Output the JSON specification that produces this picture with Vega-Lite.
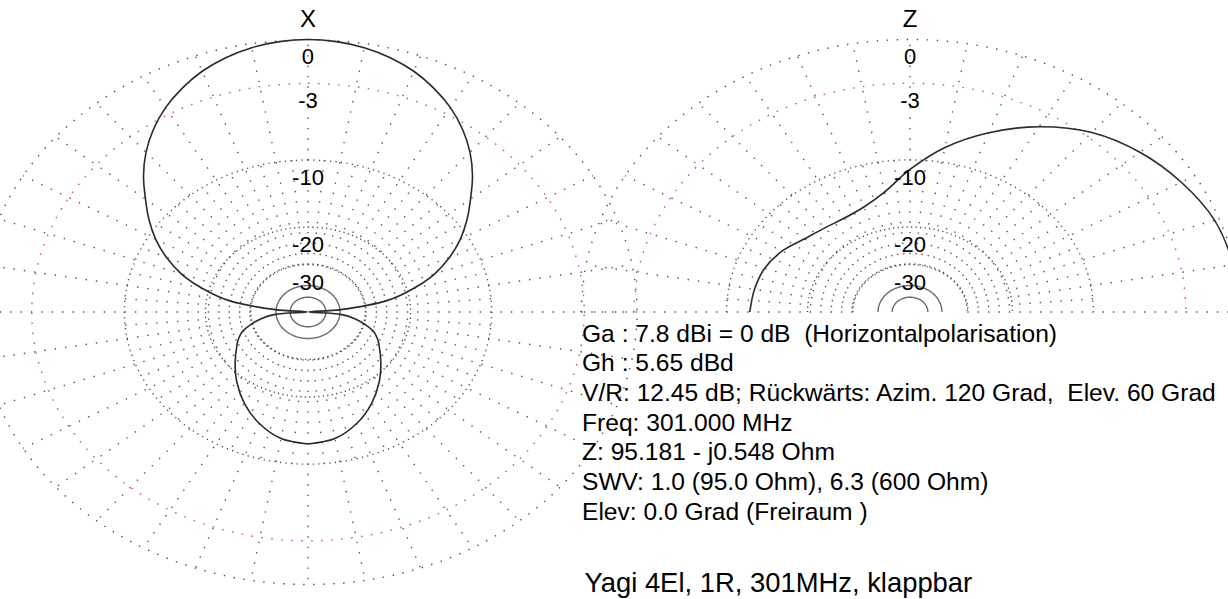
{
  "$schema": "https://vega.github.io/schema/vega-lite/v6.json",
  "width": 1228,
  "height": 599,
  "padding": 0,
  "autosize": {"type": "none"},
  "background": "#ffffff",
  "config": {"view": {"stroke": null}},
  "datasets": {
    "ringsX": [
      {"db": 0, "angles": [0,10,20,30,40,50,60,70,80,90,100,110,120,130,140,150,160,170,180,190,200,210,220,230,240,250,260,270,280,290,300,310,320,330,340,350,360]},
      {"db": -3, "angles": [0,10,20,30,40,50,60,70,80,90,100,110,120,130,140,150,160,170,180,190,200,210,220,230,240,250,260,270,280,290,300,310,320,330,340,350,360]},
      {"db": -10, "angles": [0,10,20,30,40,50,60,70,80,90,100,110,120,130,140,150,160,170,180,190,200,210,220,230,240,250,260,270,280,290,300,310,320,330,340,350,360]},
      {"db": -20, "angles": [0,10,20,30,40,50,60,70,80,90,100,110,120,130,140,150,160,170,180,190,200,210,220,230,240,250,260,270,280,290,300,310,320,330,340,350,360]},
      {"db": -30, "angles": [0,10,20,30,40,50,60,70,80,90,100,110,120,130,140,150,160,170,180,190,200,210,220,230,240,250,260,270,280,290,300,310,320,330,340,350,360]},
      {"db": -40, "angles": [0,10,20,30,40,50,60,70,80,90,100,110,120,130,140,150,160,170,180,190,200,210,220,230,240,250,260,270,280,290,300,310,320,330,340,350,360]},
      {"db": -50, "angles": [0,10,20,30,40,50,60,70,80,90,100,110,120,130,140,150,160,170,180,190,200,210,220,230,240,250,260,270,280,290,300,310,320,330,340,350,360]}
    ],
    "ringsZ": [
      {"db": 0, "angles": [-90,-80,-70,-60,-50,-40,-30,-20,-10,0,10,20,30,40,50,60,70,80,90]},
      {"db": -3, "angles": [-90,-80,-70,-60,-50,-40,-30,-20,-10,0,10,20,30,40,50,60,70,80,90]},
      {"db": -10, "angles": [-90,-80,-70,-60,-50,-40,-30,-20,-10,0,10,20,30,40,50,60,70,80,90]},
      {"db": -20, "angles": [-90,-80,-70,-60,-50,-40,-30,-20,-10,0,10,20,30,40,50,60,70,80,90]},
      {"db": -30, "angles": [-90,-80,-70,-60,-50,-40,-30,-20,-10,0,10,20,30,40,50,60,70,80,90]},
      {"db": -40, "angles": [-90,-80,-70,-60,-50,-40,-30,-20,-10,0,10,20,30,40,50,60,70,80,90]},
      {"db": -50, "angles": [-90,-80,-70,-60,-50,-40,-30,-20,-10,0,10,20,30,40,50,60,70,80,90]}
    ],
    "spokesX": [
      {"ang": 0, "levels": [-30, 0]}, {"ang": 10, "levels": [-30, 0]}, {"ang": 20, "levels": [-30, 0]}, {"ang": 30, "levels": [-30, 0]},
      {"ang": 40, "levels": [-30, 0]}, {"ang": 50, "levels": [-30, 0]}, {"ang": 60, "levels": [-30, 0]}, {"ang": 70, "levels": [-30, 0]},
      {"ang": 80, "levels": [-30, 0]}, {"ang": 90, "levels": [-30, 0]}, {"ang": 100, "levels": [-30, 0]}, {"ang": 110, "levels": [-30, 0]},
      {"ang": 120, "levels": [-30, 0]}, {"ang": 130, "levels": [-30, 0]}, {"ang": 140, "levels": [-30, 0]}, {"ang": 150, "levels": [-30, 0]},
      {"ang": 160, "levels": [-30, 0]}, {"ang": 170, "levels": [-30, 0]}, {"ang": 180, "levels": [-30, 0]}, {"ang": 190, "levels": [-30, 0]},
      {"ang": 200, "levels": [-30, 0]}, {"ang": 210, "levels": [-30, 0]}, {"ang": 220, "levels": [-30, 0]}, {"ang": 230, "levels": [-30, 0]},
      {"ang": 240, "levels": [-30, 0]}, {"ang": 250, "levels": [-30, 0]}, {"ang": 260, "levels": [-30, 0]}, {"ang": 270, "levels": [-30, 0]},
      {"ang": 280, "levels": [-30, 0]}, {"ang": 290, "levels": [-30, 0]}, {"ang": 300, "levels": [-30, 0]}, {"ang": 310, "levels": [-30, 0]},
      {"ang": 320, "levels": [-30, 0]}, {"ang": 330, "levels": [-30, 0]}, {"ang": 340, "levels": [-30, 0]}, {"ang": 350, "levels": [-30, 0]},
      {"ang": 5, "levels": [-30, -10]}, {"ang": 15, "levels": [-30, -10]}, {"ang": 25, "levels": [-30, -10]}, {"ang": 35, "levels": [-30, -10]},
      {"ang": 45, "levels": [-30, -10]}, {"ang": 55, "levels": [-30, -10]}, {"ang": 65, "levels": [-30, -10]}, {"ang": 75, "levels": [-30, -10]},
      {"ang": 85, "levels": [-30, -10]}, {"ang": 95, "levels": [-30, -10]}, {"ang": 105, "levels": [-30, -10]}, {"ang": 115, "levels": [-30, -10]},
      {"ang": 125, "levels": [-30, -10]}, {"ang": 135, "levels": [-30, -10]}, {"ang": 145, "levels": [-30, -10]}, {"ang": 155, "levels": [-30, -10]},
      {"ang": 165, "levels": [-30, -10]}, {"ang": 175, "levels": [-30, -10]}, {"ang": 185, "levels": [-30, -10]}, {"ang": 195, "levels": [-30, -10]},
      {"ang": 205, "levels": [-30, -10]}, {"ang": 215, "levels": [-30, -10]}, {"ang": 225, "levels": [-30, -10]}, {"ang": 235, "levels": [-30, -10]},
      {"ang": 245, "levels": [-30, -10]}, {"ang": 255, "levels": [-30, -10]}, {"ang": 265, "levels": [-30, -10]}, {"ang": 275, "levels": [-30, -10]},
      {"ang": 285, "levels": [-30, -10]}, {"ang": 295, "levels": [-30, -10]}, {"ang": 305, "levels": [-30, -10]}, {"ang": 315, "levels": [-30, -10]},
      {"ang": 325, "levels": [-30, -10]}, {"ang": 335, "levels": [-30, -10]}, {"ang": 345, "levels": [-30, -10]}, {"ang": 355, "levels": [-30, -10]}
    ],
    "spokesZ": [
      {"ang": -90, "levels": [-30, 0]}, {"ang": -80, "levels": [-30, 0]}, {"ang": -70, "levels": [-30, 0]}, {"ang": -60, "levels": [-30, 0]},
      {"ang": -50, "levels": [-30, 0]}, {"ang": -40, "levels": [-30, 0]}, {"ang": -30, "levels": [-30, 0]}, {"ang": -20, "levels": [-30, 0]},
      {"ang": -10, "levels": [-30, 0]}, {"ang": 0, "levels": [-30, 0]}, {"ang": 10, "levels": [-30, 0]}, {"ang": 20, "levels": [-30, 0]},
      {"ang": 30, "levels": [-30, 0]}, {"ang": 40, "levels": [-30, 0]}, {"ang": 50, "levels": [-30, 0]}, {"ang": 60, "levels": [-30, 0]},
      {"ang": 70, "levels": [-30, 0]}, {"ang": 80, "levels": [-30, 0]}, {"ang": 90, "levels": [-30, 0]},
      {"ang": -85, "levels": [-30, -10]}, {"ang": -75, "levels": [-30, -10]}, {"ang": -65, "levels": [-30, -10]}, {"ang": -55, "levels": [-30, -10]},
      {"ang": -45, "levels": [-30, -10]}, {"ang": -35, "levels": [-30, -10]}, {"ang": -25, "levels": [-30, -10]}, {"ang": -15, "levels": [-30, -10]},
      {"ang": -5, "levels": [-30, -10]}, {"ang": 5, "levels": [-30, -10]}, {"ang": 15, "levels": [-30, -10]}, {"ang": 25, "levels": [-30, -10]},
      {"ang": 35, "levels": [-30, -10]}, {"ang": 45, "levels": [-30, -10]}, {"ang": 55, "levels": [-30, -10]}, {"ang": 65, "levels": [-30, -10]},
      {"ang": 75, "levels": [-30, -10]}, {"ang": 85, "levels": [-30, -10]}
    ],
    "patX": [
      {"ang": -180, "db": -12.45}, {"ang": -170, "db": -12.9}, {"ang": -160, "db": -14.3}, {"ang": -150, "db": -16.3},
      {"ang": -140, "db": -18.7}, {"ang": -130, "db": -21.3}, {"ang": -120, "db": -23.8}, {"ang": -115, "db": -25.0},
      {"ang": -110, "db": -26.5}, {"ang": -105, "db": -29.3}, {"ang": -100, "db": -33.0}, {"ang": -95, "db": -39.5},
      {"ang": -90, "db": -100}, {"ang": -85, "db": -39.5}, {"ang": -80, "db": -24.1}, {"ang": -75, "db": -19.0},
      {"ang": -70, "db": -15.3}, {"ang": -65, "db": -12.78}, {"ang": -60, "db": -10.74}, {"ang": -55, "db": -9.06},
      {"ang": -50, "db": -7.53}, {"ang": -45, "db": -5.95}, {"ang": -40, "db": -4.58}, {"ang": -35, "db": -3.43},
      {"ang": -30, "db": -2.47}, {"ang": -25, "db": -1.7}, {"ang": -20, "db": -1.06}, {"ang": -15, "db": -0.59},
      {"ang": -10, "db": -0.26}, {"ang": -5, "db": -0.07}, {"ang": 0, "db": 0},
      {"ang": 5, "db": -0.07}, {"ang": 10, "db": -0.26}, {"ang": 15, "db": -0.59}, {"ang": 20, "db": -1.06},
      {"ang": 25, "db": -1.7}, {"ang": 30, "db": -2.47}, {"ang": 35, "db": -3.43}, {"ang": 40, "db": -4.58},
      {"ang": 45, "db": -5.95}, {"ang": 50, "db": -7.53}, {"ang": 55, "db": -9.06}, {"ang": 60, "db": -10.74},
      {"ang": 65, "db": -12.78}, {"ang": 70, "db": -15.3}, {"ang": 75, "db": -19.0}, {"ang": 80, "db": -24.1},
      {"ang": 85, "db": -39.5}, {"ang": 90, "db": -100}, {"ang": 95, "db": -39.5}, {"ang": 100, "db": -33.0},
      {"ang": 105, "db": -29.3}, {"ang": 110, "db": -26.5}, {"ang": 115, "db": -25.0}, {"ang": 120, "db": -23.8},
      {"ang": 130, "db": -21.3}, {"ang": 140, "db": -18.7}, {"ang": 150, "db": -16.3}, {"ang": 160, "db": -14.3},
      {"ang": 170, "db": -12.9}, {"ang": 180, "db": -12.45}
    ],
    "patZ": [
      {"ang": -90, "db": -12.35}, {"ang": -80, "db": -12.6}, {"ang": -70, "db": -12.96}, {"ang": -60, "db": -13.78},
      {"ang": -50, "db": -14.97}, {"ang": -40, "db": -15.6}, {"ang": -30, "db": -15.81}, {"ang": -20, "db": -15.3},
      {"ang": -10, "db": -13.82}, {"ang": 0, "db": -11.12}, {"ang": 10, "db": -8.4}, {"ang": 20, "db": -6.12},
      {"ang": 30, "db": -4.15}, {"ang": 40, "db": -2.59}, {"ang": 50, "db": -1.58}, {"ang": 60, "db": -0.84},
      {"ang": 70, "db": -0.26}, {"ang": 80, "db": -0.05}, {"ang": 90, "db": 0}
    ],
    "labels": [
      {"db": 0, "lab": "0"}, {"db": -3, "lab": "-3"}, {"db": -10, "lab": "-10"}, {"db": -20, "lab": "-20"}, {"db": -30, "lab": "-30"}
    ],
    "one": [{"k": 1}]
  },
  "layer": [
    {
      "layer": [
        {
          "data": {"name": "spokesX"},
          "transform": [
            {"flatten": ["levels"], "as": ["db"]},
            {"calculate": "pow(0.89, -datum.db/2)", "as": "r"},
            {"calculate": "datum.r*sin(datum.ang*PI/180)", "as": "px"},
            {"calculate": "datum.r*cos(datum.ang*PI/180)", "as": "py"}
          ],
          "mark": {"type": "line", "color": "#555555", "strokeWidth": 1.4, "strokeDash": [1.4, 9], "clip": true},
          "encoding": {
            "x": {"field": "px", "type": "quantitative", "scale": {"domain": [-0.93617, 2.796353], "nice": false, "zero": false}, "axis": null},
            "y": {"field": "py", "type": "quantitative", "scale": {"domain": [-1.053211, 1.144954], "nice": false, "zero": false}, "axis": null},
            "detail": {"field": "ang"},
            "order": {"field": "db", "type": "quantitative"}
          }
        },
        {
          "data": {"name": "ringsX"},
          "transform": [
            {"flatten": ["angles"], "as": ["ang"]},
            {"calculate": "pow(0.89, -datum.db/2)", "as": "r"},
            {"calculate": "datum.r*sin(datum.ang*PI/180)", "as": "px"},
            {"calculate": "datum.r*cos(datum.ang*PI/180)", "as": "py"}
          ],
          "mark": {"type": "line", "interpolate": "catmull-rom", "strokeWidth": 1.4, "clip": true},
          "encoding": {
            "x": {"field": "px", "type": "quantitative", "scale": {"domain": [-0.93617, 2.796353], "nice": false, "zero": false}, "axis": null},
            "y": {"field": "py", "type": "quantitative", "scale": {"domain": [-1.053211, 1.144954], "nice": false, "zero": false}, "axis": null},
            "detail": {"field": "db"},
            "order": {"field": "ang", "type": "quantitative"},
            "color": {"field": "db", "type": "nominal", "legend": null, "scale": {"domain": [0, -3, -10, -20, -30, -40, -50], "range": ["#4a4a4a", "#d45c5c", "#4a4a4a", "#4a4a4a", "#4a4a4a", "#6a6a6a", "#6a6a6a"]}},
            "strokeDash": {"field": "db", "type": "nominal", "legend": null, "scale": {"domain": [0, -3, -10, -20, -30, -40, -50], "range": [[1.4, 8.6], [1.6, 8.4], [1.2, 4.3], [1.2, 3.3], [1.2, 3.3], [1, 0], [1, 0]]}}
          }
        },
        {
          "data": {"name": "patX"},
          "transform": [
            {"calculate": "pow(0.89, -datum.db/2)", "as": "r"},
            {"calculate": "datum.r*sin(datum.ang*PI/180)", "as": "px"},
            {"calculate": "datum.r*cos(datum.ang*PI/180)", "as": "py"}
          ],
          "mark": {"type": "line", "interpolate": "catmull-rom", "color": "#2a2a2a", "strokeWidth": 1.6, "clip": true},
          "encoding": {
            "x": {"field": "px", "type": "quantitative", "scale": {"domain": [-0.93617, 2.796353], "nice": false, "zero": false}, "axis": null},
            "y": {"field": "py", "type": "quantitative", "scale": {"domain": [-1.053211, 1.144954], "nice": false, "zero": false}, "axis": null},
            "order": {"field": "ang", "type": "quantitative"}
          }
        },
        {
          "data": {"name": "labels"},
          "transform": [{"calculate": "pow(0.89, -datum.db/2)", "as": "r"}],
          "mark": {"type": "text", "font": "Liberation Sans", "fontSize": 22, "color": "#000000", "align": "center", "baseline": "middle", "dy": 18},
          "encoding": {
            "x": {"datum": 0, "type": "quantitative", "scale": {"domain": [-0.93617, 2.796353], "nice": false, "zero": false}, "axis": null},
            "y": {"field": "r", "type": "quantitative", "scale": {"domain": [-1.053211, 1.144954], "nice": false, "zero": false}, "axis": null},
            "text": {"field": "lab"}
          }
        },
        {
          "data": {"name": "one"},
          "mark": {"type": "text", "font": "Liberation Sans", "fontSize": 24, "color": "#000000", "align": "center", "baseline": "middle", "dy": -19},
          "encoding": {
            "x": {"datum": 0, "type": "quantitative", "scale": {"domain": [-0.93617, 2.796353], "nice": false, "zero": false}, "axis": null},
            "y": {"datum": 1, "type": "quantitative", "scale": {"domain": [-1.053211, 1.144954], "nice": false, "zero": false}, "axis": null},
            "text": {"value": "X"}
          }
        },
        {
          "data": {"name": "one"},
          "mark": {"type": "text", "font": "Liberation Sans", "fontSize": 24.6, "color": "#000000", "align": "left", "baseline": "alphabetic", "lineHeight": 29.7},
          "encoding": {
            "x": {"datum": 0.8328, "type": "quantitative", "scale": {"domain": [-0.93617, 2.796353], "nice": false, "zero": false}, "axis": null},
            "y": {"datum": -0.108991, "type": "quantitative", "scale": {"domain": [-1.053211, 1.144954], "nice": false, "zero": false}, "axis": null},
            "text": {"value": ["Ga : 7.8 dBi = 0 dB \u00a0(Horizontalpolarisation)", "Gh : 5.65 dBd", "V/R: 12.45 dB; Rückwärts: Azim. 120 Grad, \u00a0Elev. 60 Grad", "Freq: 301.000 MHz", "Z: 95.181 - j0.548 Ohm", "SWV: 1.0 (95.0 Ohm), 6.3 (600 Ohm)", "Elev: 0.0 Grad (Freiraum )"]}
          }
        },
        {
          "data": {"name": "one"},
          "mark": {"type": "text", "font": "Liberation Sans", "fontSize": 27.4, "color": "#000000", "align": "left", "baseline": "alphabetic"},
          "encoding": {
            "x": {"datum": 0.8404, "type": "quantitative", "scale": {"domain": [-0.93617, 2.796353], "nice": false, "zero": false}, "axis": null},
            "y": {"datum": -1.026422, "type": "quantitative", "scale": {"domain": [-1.053211, 1.144954], "nice": false, "zero": false}, "axis": null},
            "text": {"value": "Yagi 4El, 1R, 301MHz, klappbar"}
          }
        }
      ]
    },
    {
      "layer": [
        {
          "data": {"name": "spokesZ"},
          "transform": [
            {"flatten": ["levels"], "as": ["db"]},
            {"calculate": "pow(0.89, -datum.db/2)", "as": "r"},
            {"calculate": "datum.r*sin(datum.ang*PI/180)", "as": "px"},
            {"calculate": "datum.r*cos(datum.ang*PI/180)", "as": "py"}
          ],
          "mark": {"type": "line", "color": "#555555", "strokeWidth": 1.4, "strokeDash": [1.4, 9], "clip": true},
          "encoding": {
            "x": {"field": "px", "type": "quantitative", "scale": {"domain": [-2.765957, 0.966565], "nice": false, "zero": false}, "axis": null},
            "y": {"field": "py", "type": "quantitative", "scale": {"domain": [-1.053211, 1.144954], "nice": false, "zero": false}, "axis": null},
            "detail": {"field": "ang"},
            "order": {"field": "db", "type": "quantitative"}
          }
        },
        {
          "data": {"name": "ringsZ"},
          "transform": [
            {"flatten": ["angles"], "as": ["ang"]},
            {"calculate": "pow(0.89, -datum.db/2)", "as": "r"},
            {"calculate": "datum.r*sin(datum.ang*PI/180)", "as": "px"},
            {"calculate": "datum.r*cos(datum.ang*PI/180)", "as": "py"}
          ],
          "mark": {"type": "line", "interpolate": "catmull-rom", "strokeWidth": 1.4, "clip": true},
          "encoding": {
            "x": {"field": "px", "type": "quantitative", "scale": {"domain": [-2.765957, 0.966565], "nice": false, "zero": false}, "axis": null},
            "y": {"field": "py", "type": "quantitative", "scale": {"domain": [-1.053211, 1.144954], "nice": false, "zero": false}, "axis": null},
            "detail": {"field": "db"},
            "order": {"field": "ang", "type": "quantitative"},
            "color": {"field": "db", "type": "nominal", "legend": null, "scale": {"domain": [0, -3, -10, -20, -30, -40, -50], "range": ["#4a4a4a", "#d45c5c", "#4a4a4a", "#4a4a4a", "#4a4a4a", "#6a6a6a", "#6a6a6a"]}},
            "strokeDash": {"field": "db", "type": "nominal", "legend": null, "scale": {"domain": [0, -3, -10, -20, -30, -40, -50], "range": [[1.4, 8.6], [1.6, 8.4], [1.2, 4.3], [1.2, 3.3], [1.2, 3.3], [1, 0], [1, 0]]}}
          }
        },
        {
          "data": {"name": "patZ"},
          "transform": [
            {"calculate": "pow(0.89, -datum.db/2)", "as": "r"},
            {"calculate": "datum.r*sin(datum.ang*PI/180)", "as": "px"},
            {"calculate": "datum.r*cos(datum.ang*PI/180)", "as": "py"}
          ],
          "mark": {"type": "line", "interpolate": "catmull-rom", "color": "#2a2a2a", "strokeWidth": 1.6, "clip": true},
          "encoding": {
            "x": {"field": "px", "type": "quantitative", "scale": {"domain": [-2.765957, 0.966565], "nice": false, "zero": false}, "axis": null},
            "y": {"field": "py", "type": "quantitative", "scale": {"domain": [-1.053211, 1.144954], "nice": false, "zero": false}, "axis": null},
            "order": {"field": "ang", "type": "quantitative"}
          }
        },
        {
          "data": {"name": "labels"},
          "transform": [{"calculate": "pow(0.89, -datum.db/2)", "as": "r"}],
          "mark": {"type": "text", "font": "Liberation Sans", "fontSize": 22, "color": "#000000", "align": "center", "baseline": "middle", "dy": 18},
          "encoding": {
            "x": {"datum": 0, "type": "quantitative", "scale": {"domain": [-2.765957, 0.966565], "nice": false, "zero": false}, "axis": null},
            "y": {"field": "r", "type": "quantitative", "scale": {"domain": [-1.053211, 1.144954], "nice": false, "zero": false}, "axis": null},
            "text": {"field": "lab"}
          }
        },
        {
          "data": {"name": "one"},
          "mark": {"type": "text", "font": "Liberation Sans", "fontSize": 24, "color": "#000000", "align": "center", "baseline": "middle", "dy": -19},
          "encoding": {
            "x": {"datum": 0, "type": "quantitative", "scale": {"domain": [-2.765957, 0.966565], "nice": false, "zero": false}, "axis": null},
            "y": {"datum": 1, "type": "quantitative", "scale": {"domain": [-1.053211, 1.144954], "nice": false, "zero": false}, "axis": null},
            "text": {"value": "Z"}
          }
        }
      ]
    }
  ],
  "resolve": {"scale": {"x": "independent", "y": "independent"}}
}
